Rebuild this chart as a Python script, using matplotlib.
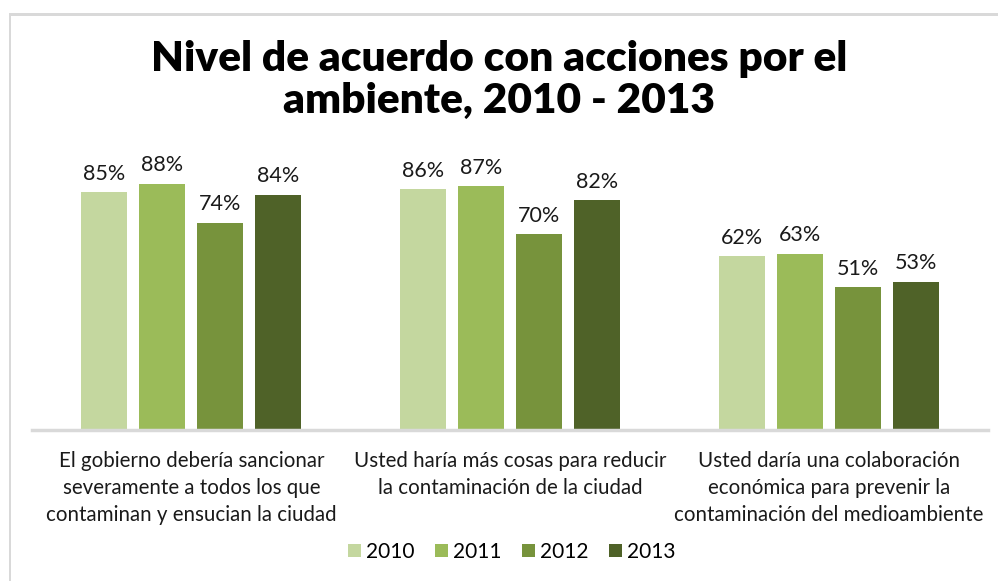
import matplotlib
matplotlib.use("Agg")
import matplotlib.pyplot as plt
import numpy as np
from matplotlib.patches import Rectangle

# data
categories = ["El gobierno debería sancionar\nseveramente a todos los que\ncontaminan y ensucian la ciudad",
              "Usted haría más cosas para reducir\nla contaminación de la ciudad",
              "Usted daría una colaboración\neconómica para prevenir la\ncontaminación del medioambiente"]
years = ["2010", "2011", "2012", "2013"]
values = {
    "2010": [85, 86, 62],
    "2011": [88, 87, 63],
    "2012": [74, 70, 51],
    "2013": [84, 82, 53],
}
colors = ["#C4D79F", "#9BBB59", "#77933C", "#4F6228"]

plt.rcParams["font.family"] = ["Lato", "DejaVu Sans"]

fig = plt.figure(figsize=(9.98, 5.81), dpi=100)

# card frame (gray left and top border)
fig.patches.append(Rectangle((9 / 998, 0), 2 / 998, 1 - 14 / 581, transform=fig.transFigure,
                             facecolor="#D9D9D9", edgecolor="none"))
fig.patches.append(Rectangle((9 / 998, 1 - 16 / 581), 1, 3 / 581, transform=fig.transFigure,
                             facecolor="#D9D9D9", edgecolor="none"))

ax = fig.add_axes([32 / 998, 151 / 581, 956 / 998, 280 / 581])

x = np.arange(len(categories))
width = 0.144
step = 0.182
for i, yr in enumerate(years):
    pos = x + (i - 1.5) * step
    bars = ax.bar(pos, values[yr], width, color=colors[i], label=yr, zorder=2)
    for b, v in zip(bars, values[yr]):
        ax.annotate(f"{v}%", (b.get_x() + b.get_width() / 2, v), xytext=(0, 6),
                    textcoords="offset points", ha="center", va="bottom",
                    fontsize=15.5, color="#1a1a1a")

ax.set_xlim(-0.5, 2.5)
ax.set_ylim(0, 100)
ax.set_yticks([])
ax.set_xticks(x)
ax.set_xticklabels(categories, fontsize=14.8, color="#1a1a1a", linespacing=1.45)
ax.tick_params(axis="x", length=0, pad=15)
for s in ["top", "right", "left"]:
    ax.spines[s].set_visible(False)
ax.spines["bottom"].set_color("#D9D9D9")
ax.spines["bottom"].set_linewidth(2.5)
ax.patch.set_alpha(0)

fig.text(0.5, 1 - 80 / 581, "Nivel de acuerdo con acciones por el\nambiente, 2010 - 2013",
         ha="center", va="center", fontsize=30.5, fontweight="heavy", linespacing=1.1)

ax.legend(loc="center", bbox_to_anchor=(512 / 998, 29 / 581), bbox_transform=fig.transFigure,
          ncol=4, frameon=False, fontsize=15, handlelength=0.6, handleheight=0.6,
          handletextpad=0.25, columnspacing=1.0)

plt.savefig("out.png", dpi=100)
